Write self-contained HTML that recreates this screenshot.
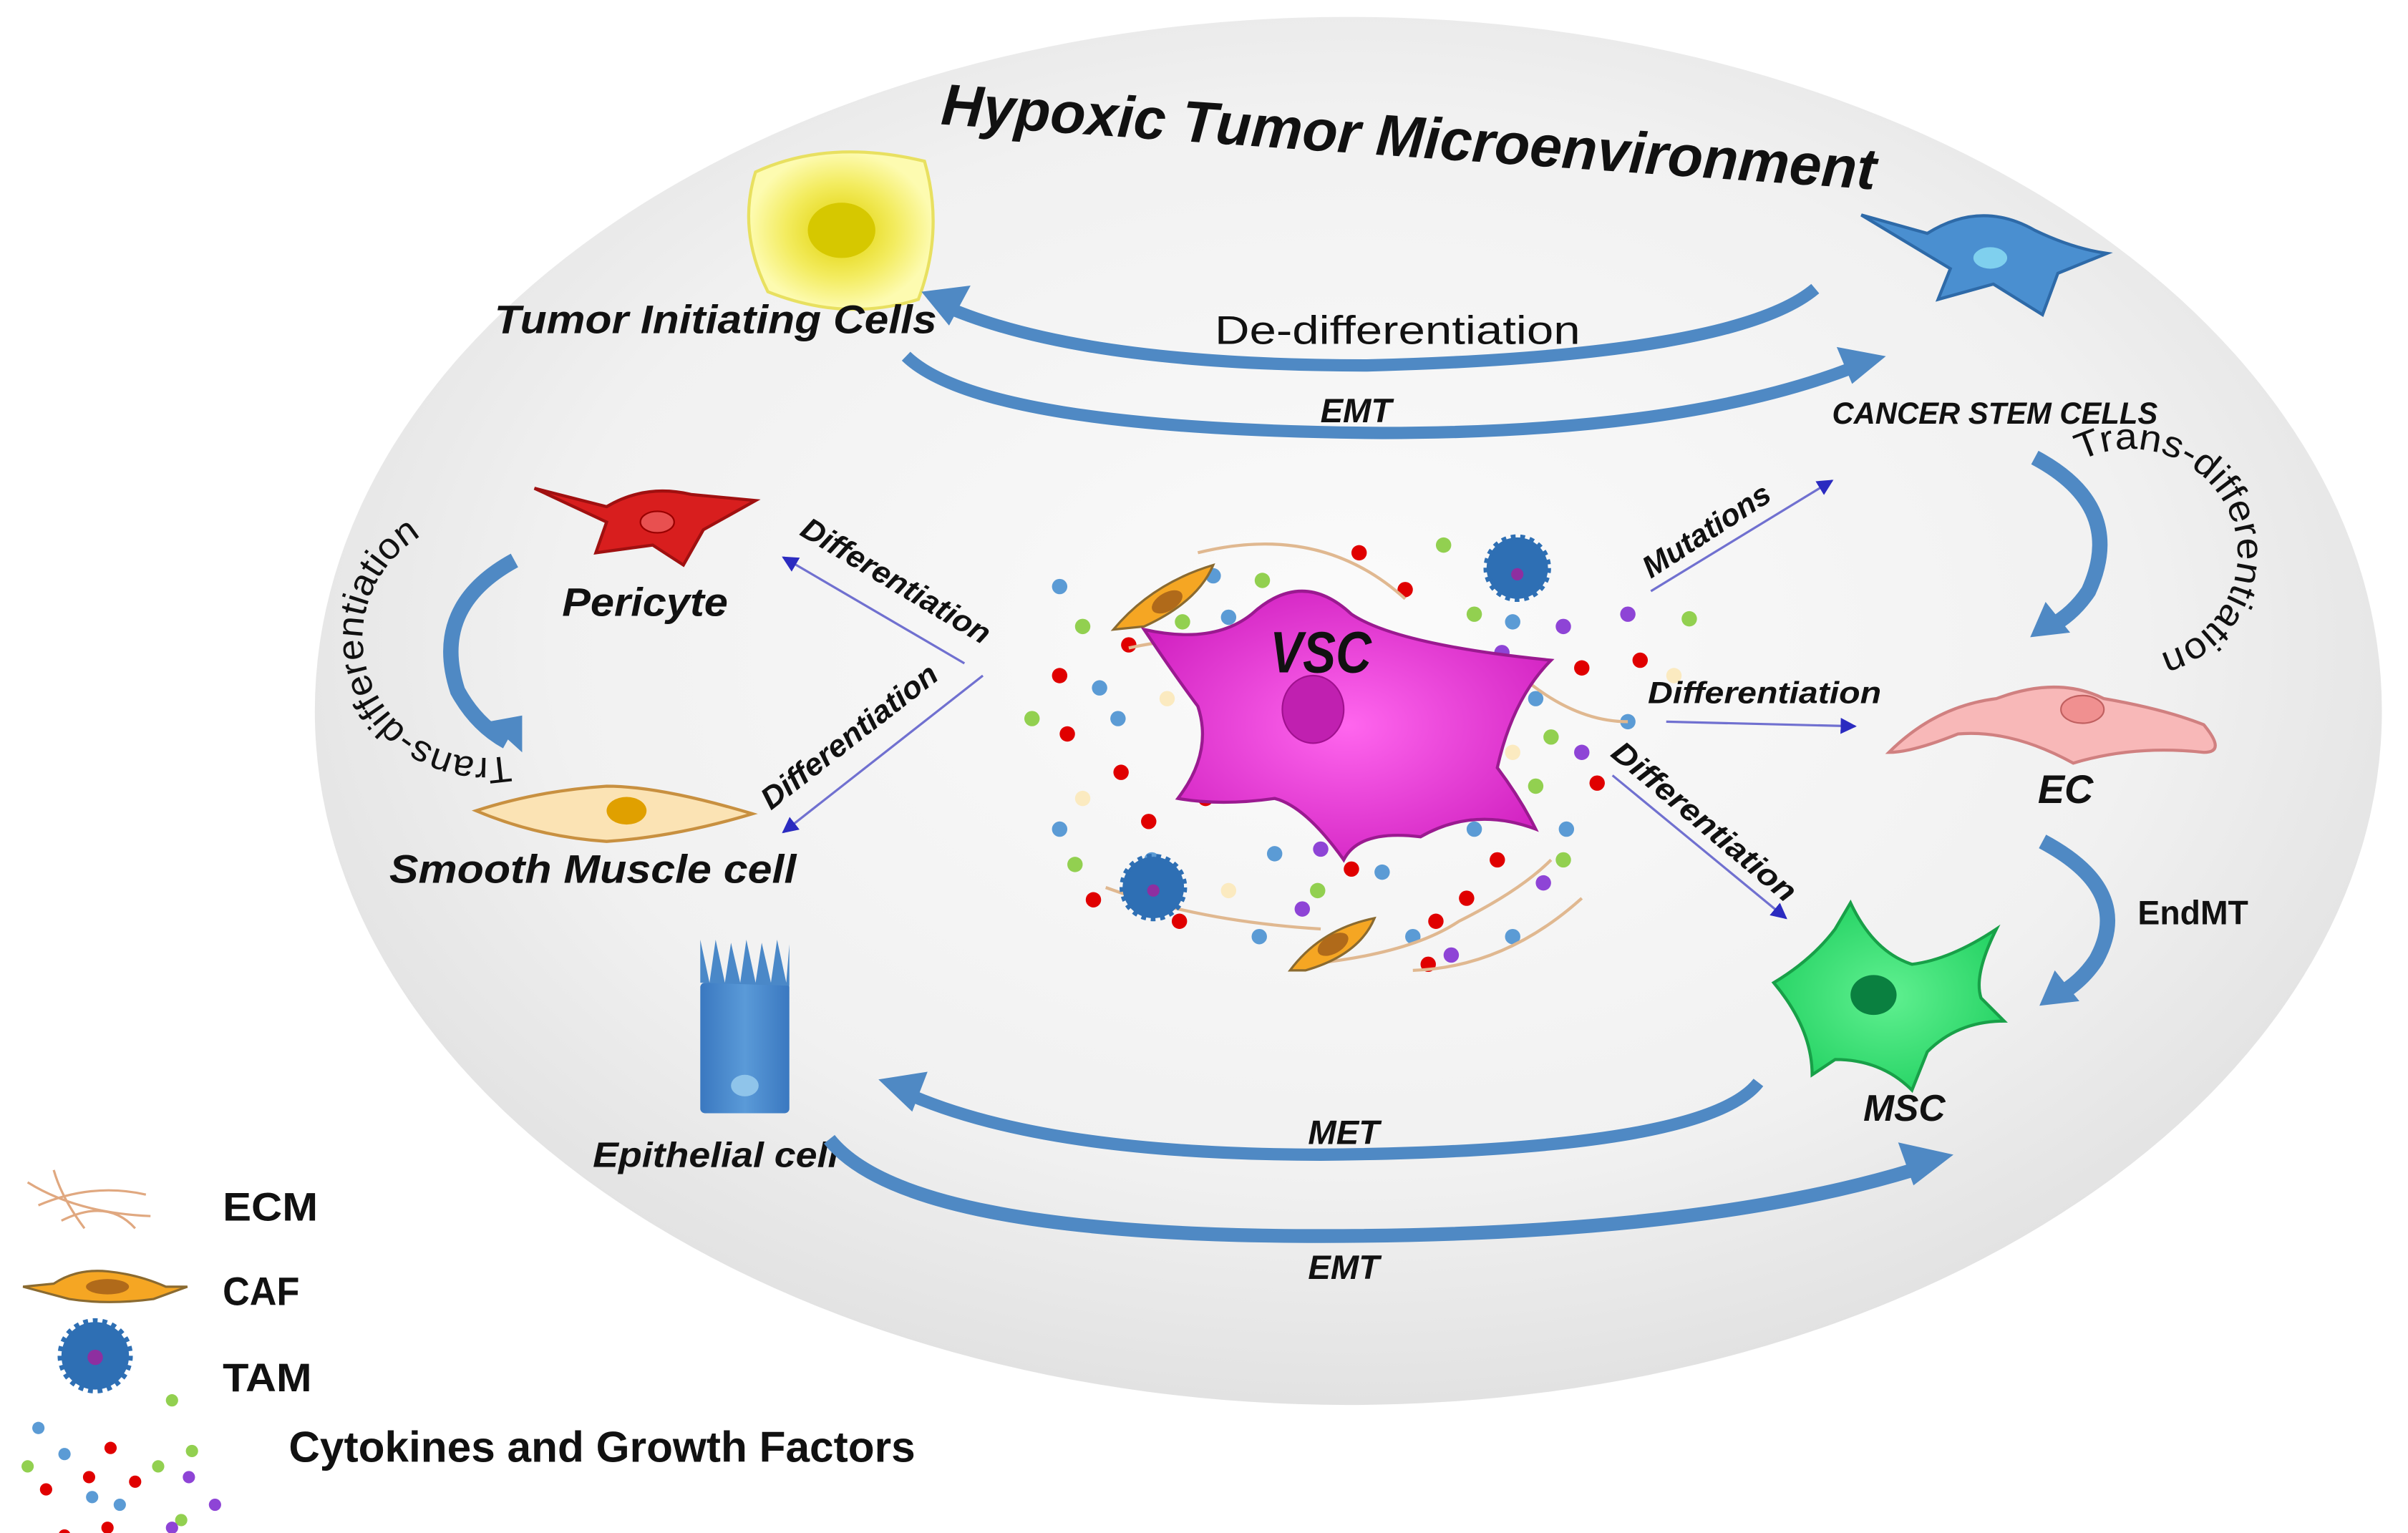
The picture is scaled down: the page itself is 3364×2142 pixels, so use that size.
<!DOCTYPE html>
<html><head><meta charset="utf-8"><style>
html,body{margin:0;padding:0;background:#fff;}
svg{display:block;}
text{font-family:"Liberation Sans Narrow","Liberation Sans",sans-serif;fill:#111;}
.bi{font-weight:bold;font-style:italic;}
.b{font-weight:bold;}
</style></head><body>
<svg width="3364" height="2142" viewBox="0 0 1568 998.4" preserveAspectRatio="none" xmlns="http://www.w3.org/2000/svg">
<defs>
<radialGradient id="bg" cx="0.5" cy="0.45" r="0.55">
<stop offset="0" stop-color="#fbfbfb"/><stop offset="0.7" stop-color="#f1f1f1"/><stop offset="1" stop-color="#e2e2e2"/>
</radialGradient>
<radialGradient id="yel" cx="0.5" cy="0.5" r="0.5"><stop offset="0" stop-color="#e0d000"/><stop offset="0.6" stop-color="#f3ec60"/><stop offset="1" stop-color="#fdfbb0"/></radialGradient>
<radialGradient id="mag" cx="0.5" cy="0.5" r="0.6"><stop offset="0" stop-color="#ff66ee"/><stop offset="1" stop-color="#d020c0"/></radialGradient>
<radialGradient id="grn" cx="0.5" cy="0.5" r="0.6"><stop offset="0" stop-color="#60f090"/><stop offset="1" stop-color="#20d060"/></radialGradient>
<linearGradient id="ep" x1="0" y1="0" x2="1" y2="0"><stop offset="0" stop-color="#3a78c0"/><stop offset="0.5" stop-color="#5a9ad8"/><stop offset="1" stop-color="#3a78c0"/></linearGradient>
<marker id="ah" viewBox="0 0 10 10" refX="9" refY="5" markerWidth="7" markerHeight="7" orient="auto"><path d="M0,0 L10,5 L0,10 z" fill="#2b2bc0"/></marker>
<path id="tdR" d="M1355,300 A70,68 0 1 1 1395,428"/>
<path id="tdL" d="M332,492 A80,78 0 0 1 282,345"/>
</defs>
<rect width="1568" height="998.4" fill="#fff"/>
<ellipse cx="878" cy="463" rx="673" ry="452" fill="url(#bg)"/>

<text x="612" y="102" class="bi" font-size="38" transform="rotate(4 915 95)" textLength="610" lengthAdjust="spacingAndGlyphs">Hypoxic Tumor Microenvironment</text>

<!-- yellow TIC -->
<path d="M492,112 Q540,90 602,105 Q615,150 598,195 Q550,210 500,190 Q480,150 492,112z" fill="url(#yel)" stroke="#e8e060" stroke-width="2"/>
<ellipse cx="548" cy="150" rx="22" ry="18" fill="#d6c800"/>
<text x="322" y="217" class="bi" font-size="26" textLength="288" lengthAdjust="spacingAndGlyphs">Tumor Initiating Cells</text>

<!-- CSC blue -->
<path d="M1212,140 L1255,152 Q1290,130 1325,150 Q1350,162 1372,165 L1340,178 L1330,205 L1298,185 L1262,195 L1270,175 z" fill="#4a8fd0" stroke="#2e6aa8" stroke-width="2"/>
<ellipse cx="1296" cy="168" rx="11" ry="7" fill="#7fd0ee"/>
<text x="1193" y="276" class="bi" font-size="20" textLength="212" lengthAdjust="spacingAndGlyphs">CANCER STEM CELLS</text>

<!-- De-diff arrow -->
<path d="M1182,188 Q1130,232 890,238 Q700,238 612,198" fill="none" stroke="#4f89c4" stroke-width="8"/>
<path d="M600,190 L632,186 L618,212 z" fill="#4f89c4"/>
<text x="910" y="224" font-size="26" text-anchor="middle" textLength="238" lengthAdjust="spacingAndGlyphs">De-differentiation</text>
<!-- EMT top -->
<path d="M590,232 Q640,280 900,282 Q1100,282 1210,238" fill="none" stroke="#4f89c4" stroke-width="8"/>
<path d="M1228,232 L1196,226 L1206,250 z" fill="#4f89c4"/>
<text x="883" y="275" class="bi" font-size="22" text-anchor="middle">EMT</text>

<!-- right trans-diff -->
<path d="M1325,298 Q1385,330 1360,385 Q1350,400 1335,408" fill="none" stroke="#4f89c4" stroke-width="10"/>
<path d="M1322,415 L1332,392 L1348,412 z" fill="#4f89c4"/>
<text font-size="24"><textPath href="#tdR" textLength="230" lengthAdjust="spacingAndGlyphs">Trans-differentiation</textPath></text>

<!-- pericyte -->
<path d="M348,318 L395,330 Q420,315 450,322 L492,326 L458,345 L445,368 L425,355 L388,360 L395,340 z" fill="#d81e1e" stroke="#a01010" stroke-width="2"/>
<ellipse cx="428" cy="340" rx="11" ry="7" fill="#e85050" stroke="#900" />
<text x="420" y="401" class="bi" font-size="26" text-anchor="middle" textLength="108" lengthAdjust="spacingAndGlyphs">Pericyte</text>

<!-- left trans-diff -->
<path d="M335,365 Q280,395 298,450 Q310,472 330,483" fill="none" stroke="#4f89c4" stroke-width="10"/>
<path d="M340,490 L318,470 L340,466 z" fill="#4f89c4"/>
<text font-size="24"><textPath href="#tdL" textLength="220" lengthAdjust="spacingAndGlyphs">Trans-differentiation</textPath></text>

<!-- smooth muscle -->
<path d="M310,528 Q350,515 395,512 Q430,512 490,530 Q440,545 395,548 Q350,545 310,528z" fill="#fbe3b4" stroke="#c89040" stroke-width="2"/>
<ellipse cx="408" cy="528" rx="13" ry="9" fill="#e0a000"/>
<text x="386" y="575" class="bi" font-size="26" text-anchor="middle" textLength="265" lengthAdjust="spacingAndGlyphs">Smooth Muscle cell</text>

<!-- diff lines left -->
<line x1="628" y1="432" x2="510" y2="363" stroke="#7070d0" stroke-width="1.5" marker-end="url(#ah)"/>
<text x="520" y="348" class="bi" font-size="20" transform="rotate(31 520 348)" textLength="140" lengthAdjust="spacingAndGlyphs">Differentiation</text>
<line x1="640" y1="440" x2="510" y2="542" stroke="#7070d0" stroke-width="1.5" marker-end="url(#ah)"/>
<text x="502" y="528" class="bi" font-size="20" transform="rotate(-38 502 528)" textLength="140" lengthAdjust="spacingAndGlyphs">Differentiation</text>

<!-- dots -->
<g>
<circle cx="690" cy="382" r="5" fill="#5b9bd5"/><circle cx="705" cy="408" r="5" fill="#92d050"/><circle cx="716" cy="448" r="5" fill="#5b9bd5"/>
<circle cx="690" cy="440" r="5" fill="#e00000"/><circle cx="672" cy="468" r="5" fill="#92d050"/><circle cx="695" cy="478" r="5" fill="#e00000"/>
<circle cx="728" cy="468" r="5" fill="#5b9bd5"/><circle cx="730" cy="503" r="5" fill="#e00000"/><circle cx="705" cy="520" r="5" fill="#fbeac0"/>
<circle cx="700" cy="563" r="5" fill="#92d050"/><circle cx="712" cy="586" r="5" fill="#e00000"/><circle cx="690" cy="540" r="5" fill="#5b9bd5"/>
<circle cx="768" cy="600" r="5" fill="#e00000"/><circle cx="748" cy="535" r="5" fill="#e00000"/><circle cx="750" cy="560" r="5" fill="#5b9bd5"/>
<circle cx="770" cy="405" r="5" fill="#92d050"/><circle cx="790" cy="375" r="5" fill="#5b9bd5"/><circle cx="800" cy="402" r="5" fill="#5b9bd5"/>
<circle cx="822" cy="378" r="5" fill="#92d050"/><circle cx="845" cy="390" r="5" fill="#e00000"/><circle cx="885" cy="360" r="5" fill="#e00000"/>
<circle cx="915" cy="384" r="5" fill="#e00000"/><circle cx="940" cy="355" r="5" fill="#92d050"/><circle cx="960" cy="400" r="5" fill="#92d050"/>
<circle cx="985" cy="405" r="5" fill="#5b9bd5"/><circle cx="978" cy="425" r="5" fill="#8e44d6"/><circle cx="1018" cy="408" r="5" fill="#8e44d6"/>
<circle cx="1000" cy="455" r="5" fill="#5b9bd5"/><circle cx="1030" cy="435" r="5" fill="#e00000"/><circle cx="1060" cy="400" r="5" fill="#8e44d6"/>
<circle cx="1068" cy="430" r="5" fill="#e00000"/><circle cx="1100" cy="403" r="5" fill="#92d050"/><circle cx="1060" cy="470" r="5" fill="#5b9bd5"/>
<circle cx="1010" cy="480" r="5" fill="#92d050"/><circle cx="1030" cy="490" r="5" fill="#8e44d6"/><circle cx="1040" cy="510" r="5" fill="#e00000"/>
<circle cx="1000" cy="512" r="5" fill="#92d050"/><circle cx="1020" cy="540" r="5" fill="#5b9bd5"/><circle cx="1005" cy="575" r="5" fill="#8e44d6"/>
<circle cx="1018" cy="560" r="5" fill="#92d050"/><circle cx="975" cy="560" r="5" fill="#e00000"/><circle cx="955" cy="585" r="5" fill="#e00000"/>
<circle cx="935" cy="600" r="5" fill="#e00000"/><circle cx="920" cy="610" r="5" fill="#5b9bd5"/><circle cx="985" cy="610" r="5" fill="#5b9bd5"/>
<circle cx="945" cy="622" r="5" fill="#8e44d6"/><circle cx="930" cy="628" r="5" fill="#e00000"/><circle cx="880" cy="566" r="5" fill="#e00000"/>
<circle cx="858" cy="580" r="5" fill="#92d050"/><circle cx="848" cy="592" r="5" fill="#8e44d6"/><circle cx="830" cy="556" r="5" fill="#5b9bd5"/>
<circle cx="860" cy="553" r="5" fill="#8e44d6"/><circle cx="900" cy="568" r="5" fill="#5b9bd5"/><circle cx="760" cy="395" r="5" fill="#e00000"/>
<circle cx="735" cy="420" r="5" fill="#e00000"/><circle cx="770" cy="430" r="5" fill="#5b9bd5"/><circle cx="785" cy="520" r="5" fill="#e00000"/>
<circle cx="760" cy="455" r="5" fill="#fbeac0"/><circle cx="985" cy="490" r="5" fill="#fbeac0"/><circle cx="1090" cy="440" r="5" fill="#fbeac0"/>
<circle cx="820" cy="610" r="5" fill="#5b9bd5"/><circle cx="800" cy="580" r="5" fill="#fbeac0"/><circle cx="960" cy="540" r="5" fill="#5b9bd5"/>
</g>
<!-- ECM fibers -->
<g fill="none" stroke="#e0b890" stroke-width="2">
<path d="M780,360 Q860,340 915,390"/><path d="M735,422 Q780,412 840,416"/><path d="M990,440 Q1025,470 1060,470"/>
<path d="M720,578 Q780,600 860,605"/><path d="M860,627 Q920,620 950,600 Q990,580 1010,560"/><path d="M920,632 Q980,630 1030,585"/>
</g>
<!-- CAFs -->
<path d="M725,410 Q750,380 790,368 Q780,392 745,408 z" fill="#f5a623" stroke="#8a6a30" stroke-width="1.5"/>
<ellipse cx="760" cy="392" rx="11" ry="6" fill="#b06a1a" transform="rotate(-30 760 392)"/>
<path d="M840,632 Q860,605 895,598 Q885,622 850,632 z" fill="#f5a623" stroke="#8a6a30" stroke-width="1.5"/>
<ellipse cx="868" cy="615" rx="11" ry="6" fill="#b06a1a" transform="rotate(-30 868 615)"/>
<!-- TAMs -->
<circle cx="988" cy="370" r="20" fill="#2e6fb4" stroke="#2e6fb4" stroke-width="4" stroke-dasharray="3 3"/><circle cx="988" cy="374" r="4" fill="#8e2fa0"/>
<circle cx="751" cy="578" r="20" fill="#2e6fb4" stroke="#2e6fb4" stroke-width="4" stroke-dasharray="3 3"/><circle cx="751" cy="580" r="4" fill="#8e2fa0"/>
<!-- VSC -->
<path d="M745,410 Q790,420 815,400 Q848,370 880,400 Q910,420 1010,430 Q985,455 975,500 Q990,520 1000,540 Q960,525 925,545 Q885,540 875,560 Q850,525 830,520 Q795,525 767,520 Q790,490 780,460 Q765,440 745,410z" fill="url(#mag)" stroke="#9a1a90" stroke-width="2"/>
<ellipse cx="855" cy="462" rx="20" ry="22" fill="#c020b0" stroke="#a0108f"/>
<text x="860" y="438" class="bi" font-size="38" text-anchor="middle" textLength="66" lengthAdjust="spacingAndGlyphs">VSC</text>

<!-- right diff arrows -->
<line x1="1075" y1="385" x2="1193" y2="313" stroke="#7070d0" stroke-width="1.5" marker-end="url(#ah)"/>
<text x="1075" y="377" class="bi" font-size="20" transform="rotate(-33 1075 377)" textLength="95" lengthAdjust="spacingAndGlyphs">Mutations</text>
<line x1="1085" y1="470" x2="1208" y2="473" stroke="#7070d0" stroke-width="1.5" marker-end="url(#ah)"/>
<text x="1073" y="458" class="bi" font-size="20" textLength="152" lengthAdjust="spacingAndGlyphs">Differentiation</text>
<line x1="1050" y1="505" x2="1163" y2="598" stroke="#7070d0" stroke-width="1.5" marker-end="url(#ah)"/>
<text x="1048" y="492" class="bi" font-size="20" transform="rotate(40 1048 492)" textLength="150" lengthAdjust="spacingAndGlyphs">Differentiation</text>

<!-- EC -->
<path d="M1230,490 Q1260,460 1300,455 Q1340,440 1370,455 Q1410,462 1435,472 Q1450,490 1435,490 Q1390,485 1350,497 Q1310,475 1275,478 Q1245,490 1230,490z" fill="#f8b8b8" stroke="#d08080" stroke-width="2"/>
<ellipse cx="1356" cy="462" rx="14" ry="9" fill="#f09090" stroke="#c06060"/>
<text x="1345" y="523" class="bi" font-size="26" text-anchor="middle">EC</text>

<!-- EndMT -->
<path d="M1330,548 Q1390,580 1365,625 Q1355,640 1340,648" fill="none" stroke="#4f89c4" stroke-width="10"/>
<path d="M1328,655 L1338,632 L1354,652 z" fill="#4f89c4"/>
<text x="1392" y="602" class="b" font-size="22" textLength="72" lengthAdjust="spacingAndGlyphs">EndMT</text>

<!-- MSC -->
<path d="M1155,640 Q1180,625 1195,605 L1205,588 Q1220,620 1245,628 Q1270,625 1300,605 Q1285,635 1290,650 L1305,665 Q1275,665 1255,685 L1245,710 Q1225,690 1195,690 L1180,700 Q1180,670 1155,640z" fill="url(#grn)" stroke="#18a048" stroke-width="2"/>
<ellipse cx="1220" cy="648" rx="15" ry="13" fill="#0a8040"/>
<text x="1240" y="730" class="bi" font-size="24" text-anchor="middle">MSC</text>

<!-- Epithelial -->
<rect x="456" y="640" width="58" height="85" rx="3" fill="url(#ep)"/>
<path d="M456,640 L456,612 L462,640 L466,612 L472,640 L476,614 L482,640 L486,612 L492,640 L496,614 L502,640 L506,612 L512,640 L514,615 L514,642 z" fill="#4a88c8"/>
<ellipse cx="485" cy="707" rx="9" ry="7" fill="#8fc4ea"/>
<text x="466" y="760" class="bi" font-size="23" text-anchor="middle" textLength="160" lengthAdjust="spacingAndGlyphs">Epithelial cell</text>

<!-- MET arrow -->
<path d="M1145,705 Q1110,750 860,752 Q680,752 590,712" fill="none" stroke="#4f89c4" stroke-width="8"/>
<path d="M572,703 L604,698 L594,724 z" fill="#4f89c4"/>
<text x="875" y="745" class="bi" font-size="22" text-anchor="middle">MET</text>
<!-- EMT bottom -->
<path d="M540,742 Q590,805 860,805 Q1110,805 1252,760" fill="none" stroke="#4f89c4" stroke-width="9"/>
<path d="M1272,752 L1236,744 L1246,772 z" fill="#4f89c4"/>
<text x="875" y="833" class="bi" font-size="22" text-anchor="middle">EMT</text>

<!-- legend -->
<g fill="none" stroke="#e0a880" stroke-width="1.5">
<path d="M18,770 Q50,790 98,792"/><path d="M35,762 Q40,780 55,800"/><path d="M25,785 Q60,770 95,778"/><path d="M40,795 Q70,780 88,800"/>
</g>
<text x="145" y="795" class="b" font-size="26" textLength="62" lengthAdjust="spacingAndGlyphs">ECM</text>
<path d="M15,838 L35,836 Q50,826 70,828 Q90,830 108,838 L122,838 L100,846 Q70,850 45,846 z" fill="#f5a623" stroke="#8a6a30" stroke-width="1.5"/>
<ellipse cx="70" cy="838" rx="14" ry="5" fill="#b06a1a"/>
<text x="145" y="850" class="b" font-size="26" textLength="50" lengthAdjust="spacingAndGlyphs">CAF</text>
<circle cx="62" cy="883" r="22" fill="#2e6fb4" stroke="#2e6fb4" stroke-width="5" stroke-dasharray="3 3"/><circle cx="62" cy="884" r="5" fill="#8e2fa0"/>
<text x="145" y="906" class="b" font-size="26" textLength="58" lengthAdjust="spacingAndGlyphs">TAM</text>
<g>
<circle cx="112" cy="912" r="4" fill="#92d050"/><circle cx="25" cy="930" r="4" fill="#5b9bd5"/><circle cx="42" cy="947" r="4" fill="#5b9bd5"/>
<circle cx="72" cy="943" r="4" fill="#e00000"/><circle cx="18" cy="955" r="4" fill="#92d050"/><circle cx="30" cy="970" r="4" fill="#e00000"/>
<circle cx="58" cy="962" r="4" fill="#e00000"/><circle cx="60" cy="975" r="4" fill="#5b9bd5"/><circle cx="78" cy="980" r="4" fill="#5b9bd5"/>
<circle cx="88" cy="965" r="4" fill="#e00000"/><circle cx="103" cy="955" r="4" fill="#92d050"/><circle cx="125" cy="945" r="4" fill="#92d050"/>
<circle cx="123" cy="962" r="4" fill="#8e44d6"/><circle cx="140" cy="980" r="4" fill="#8e44d6"/><circle cx="118" cy="990" r="4" fill="#92d050"/>
<circle cx="112" cy="995" r="4" fill="#8e44d6"/><circle cx="42" cy="1000" r="4" fill="#e00000"/><circle cx="70" cy="995" r="4" fill="#e00000"/>
</g>
<text x="188" y="952" class="b" font-size="28" textLength="408" lengthAdjust="spacingAndGlyphs">Cytokines and Growth Factors</text>
</svg>
</body></html>
